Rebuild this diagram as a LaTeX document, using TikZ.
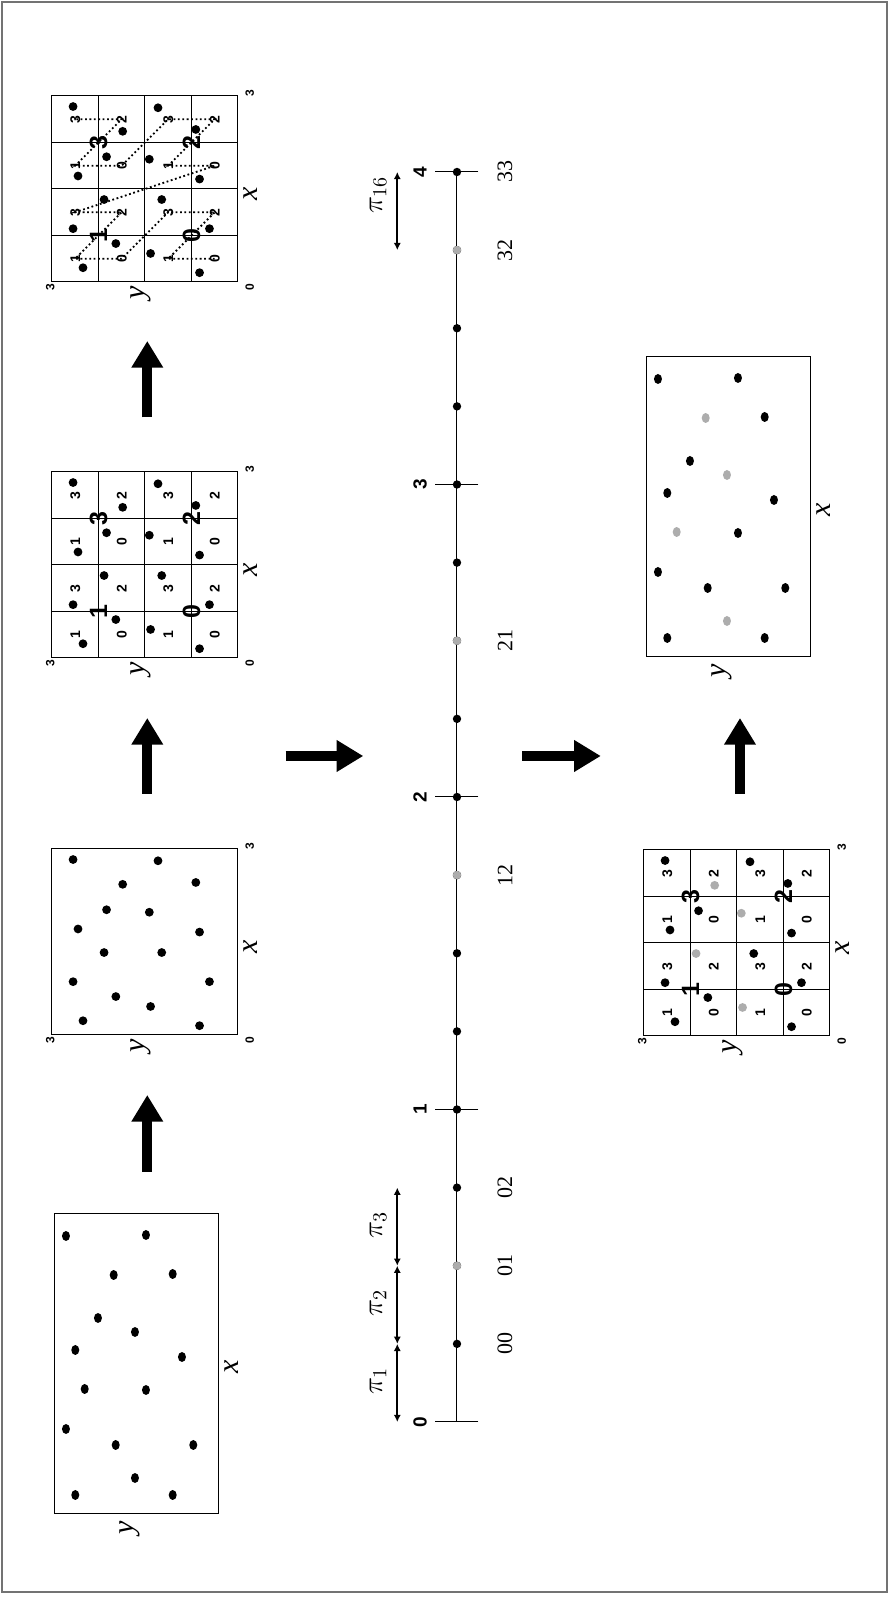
\documentclass[tikz,border=0pt]{standalone}
\usepackage{fontspec}
\setmainfont{Liberation Serif}
\setsansfont{Liberation Sans}
\usetikzlibrary{arrows.meta}

\definecolor{dotgray}{gray}{0.68}
\definecolor{framegray}{gray}{0.45}

\tikzset{
  flowarrow/.style={line width=5pt,-{Triangle[length=13.3pt,width=15pt]}},
  spanarrow/.style={line width=0.9pt,{Latex[length=3.6pt,width=3.6pt]}-{Latex[length=3.6pt,width=3.6pt]}},
  zpath/.style={line width=0.9pt,dash pattern=on 0.9pt off 1.3pt},
  axislabel/.style={font=\fontsize{15}{17}\selectfont\itshape,anchor=base,inner sep=0pt},
  ticklabel/.style={font=\fontsize{6}{7}\selectfont\sffamily\bfseries,inner sep=0pt},
  sublabel/.style={font=\fontsize{7}{8}\selectfont\sffamily\bfseries,inner sep=0pt},
  quadlabel/.style={font=\fontsize{12.5}{14}\selectfont\sffamily\bfseries,inner sep=0pt},
  numlabel/.style={font=\fontsize{9.5}{11}\selectfont\sffamily\bfseries,inner sep=0pt},
  codelabel/.style={font=\fontsize{11}{13}\selectfont,inner sep=0pt},
  pilabel/.style={font=\fontsize{14}{16}\selectfont,inner sep=0pt}
}

\newcommand{\sqblack}{2.83/2.66, 2.81/1.29, 2.46/0.68, 2.02/2.12, 1.71/2.58, 1.66/0.62, 1.33/1.23, 0.86/2.66, 0.86/0.46, 0.62/1.97, 0.23/2.50, 0.15/0.62}
\newcommand{\sqgray}{2.43/1.86, 1.98/1.43, 1.33/2.16, 0.46/1.41}
\newcommand{\recblack}{278/153, 279/73, 240/46.3, 196/121, 164/143.7, 157/37, 124/73, 85/153, 69/103.3, 69/25.7, 19/143.7, 19/46.3}
\newcommand{\recgray}{239/105.3, 182/84, 125/134.3, 36/84}

\newcommand{\sqdots}[1]{%
  \foreach \dx/\dy in \sqblack {\fill (\dx,\dy) circle (2.2pt);}
  \foreach \dx/\dy in \sqgray {\fill[#1] (\dx,\dy) circle (2.2pt);}}

\newcommand{\recdots}[1]{%
  \draw (0,0) rectangle (300,164);
  \foreach \dx/\dy in \recblack {\fill (\dx,\dy) ellipse [x radius=2.5pt,y radius=2pt];}
  \foreach \dx/\dy in \recgray {\fill[#1] (\dx,\dy) ellipse [x radius=2.5pt,y radius=2pt];}
  \node[axislabel] (xr) at (147,-19.3) {x};
  \node[axislabel] (yr) at (-13.5,85) {y};}

\newcommand{\sqaxes}{%
  \draw (0,0) rectangle (3,3);
  \node[ticklabel] (org) at (-0.09,-0.19) {0};
  \node[ticklabel] (xmax) at (3.05,-0.19) {3};
  \node[ticklabel] (ymax) at (-0.09,3.03) {3};
  \node[axislabel] (xs) at (1.42,-0.31) {x};
  \node[axislabel] (ys) at (-0.17,1.5) {y};}

\newcommand{\quadgrid}{%
  \foreach \gl in {0.75,1.5,2.25} {\draw (\gl,0) -- (\gl,3); \draw (0,\gl) -- (3,\gl);}
  \foreach \qd/\qi/\qj in {0/0/0,1/0/1,2/1/0,3/1/1} {
    \node[quadlabel] (b\qd) at (0.75+1.5*\qi,0.75+1.5*\qj) {\qd};
    \foreach \sd/\si/\sj in {0/0/0,1/0/1,2/1/0,3/1/1}
      \node[sublabel] (c\qd\sd) at (0.375+1.5*\qi+0.75*\si,0.375+1.5*\qj+0.75*\sj) {\sd};
  }}

\begin{document}
\begin{tikzpicture}[rotate=90,transform shape,x=0.5pt,y=0.5pt,line width=0.5pt]
\useasboundingbox (0,0) rectangle (1597,889);
\draw[framegray,line width=1pt] (5,2) rectangle (1595,887);

\begin{scope}[shift={(83,670)}]
  \recdots{black}
\end{scope}
\begin{scope}[shift={(562,651)},x=31pt,y=31pt]
  \sqaxes
  \sqdots{black}
\end{scope}
\begin{scope}[shift={(939,651)},x=31pt,y=31pt]
  \sqaxes
  \quadgrid
  \sqdots{black}
\end{scope}
\begin{scope}[shift={(1315,651)},x=31pt,y=31pt]
  \sqaxes
  \draw[zpath] (0.375,0.375) -- (0.375,1.125) -- (1.125,0.375) -- (1.125,1.125)
    -- (0.375,1.875) -- (0.375,2.625) -- (1.125,1.875) -- (1.125,2.625)
    -- (1.875,0.375) -- (1.875,1.125) -- (2.625,0.375) -- (2.625,1.125)
    -- (1.875,1.875) -- (1.875,2.625) -- (2.625,1.875) -- (2.625,2.625);
  \quadgrid
  \sqdots{black}
\end{scope}
\begin{scope}[shift={(561,59)},x=31pt,y=31pt]
  \sqaxes
  \quadgrid
  \sqdots{dotgray}
\end{scope}
\begin{scope}[shift={(940,78)}]
  \recdots{dotgray}
\end{scope}

\draw[flowarrow] (425.3,741.7) -- (502,741.7);
\draw[flowarrow] (803,741.7) -- (879,741.7);
\draw[flowarrow] (1179.5,741.7) -- (1256,741.7);
\draw[flowarrow] (841,603.3) -- (841,525.7);
\draw[flowarrow] (841,366.6) -- (841,288.2);
\draw[flowarrow] (803,149) -- (879,149);

\draw (175,432) -- (1425,432);
\foreach \i in {0,...,4} {
  \draw (175+312.5*\i,410.5) -- (175+312.5*\i,453.5);
  \node[numlabel] (n\i) at (175+312.5*\i,469) {\i};}
\foreach \k in {1,...,16} \fill (175+78.125*\k,432) circle (2.1pt);
\foreach \k in {2,7,10,15} \fill[dotgray] (175+78.125*\k,432) circle (2.1pt);
\foreach \k/\cd in {1/00,2/01,3/02,7/12,10/21,15/32,16/33}
  \node[codelabel] (code\cd) at (175+78.125*\k,384) {\cd};

\foreach \k in {0,1,2,3,15,16} \coordinate (q\k) at (175+78.125*\k,491.7);
\draw[spanarrow] (q0) -- (q1);
\draw[spanarrow] (q1) -- (q2);
\draw[spanarrow] (q2) -- (q3);
\draw[spanarrow] (q15) -- (q16);
\node[pilabel] (pi1) at (216,511) {$\pi_{1}$};
\node[pilabel] (pi2) at (294,511) {$\pi_{2}$};
\node[pilabel] (pi3) at (372,511) {$\pi_{3}$};
\node[pilabel] (pi16) at (1402,511) {$\pi_{16}$};
\end{tikzpicture}
\end{document}
